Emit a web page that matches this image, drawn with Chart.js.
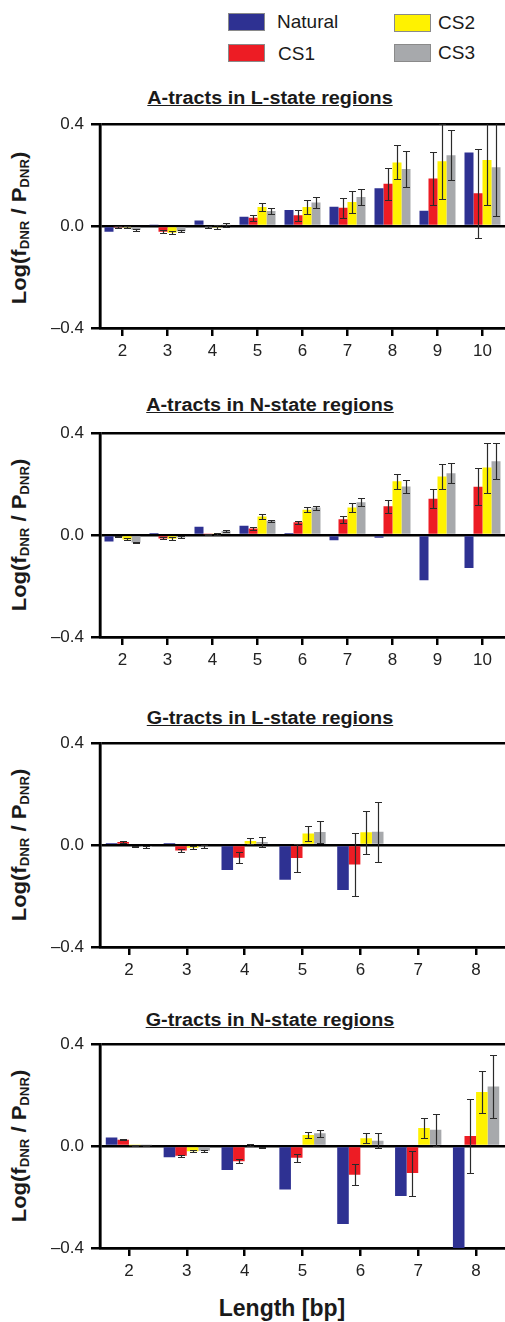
<!DOCTYPE html>
<html>
<head>
<meta charset="utf-8">
<script src="https://cdn.jsdelivr.net/npm/chart.js@4.4.1/dist/chart.umd.min.js"></script>
<style>
  body { margin: 0; background: #fff; width: 505px; height: 1322px; position: relative; overflow: hidden;
         font-family: "Liberation Sans", Arial, sans-serif; color: #1a1a1a; }
  canvas.panel { position: absolute; left: 0; }
  .sw { position: absolute; width: 35px; height: 16px; border: 1px solid #8a8a8a; }
  .lg { position: absolute; font-size: 19px; line-height: 20px; white-space: nowrap; }
  .ttl { position: absolute; left: 270px; transform: translate(-50%, -50%) scaleX(1.1); font-weight: bold; font-size: 18px;
         line-height: 22px; text-decoration: underline; white-space: nowrap; }
  .ytl { position: absolute; left: 22px; transform: translate(-50%, -50%) rotate(-90deg) scaleX(1.1); font-weight: bold;
         font-size: 20px; line-height: 24px; white-space: nowrap; }
  .ytl sub { font-size: 12px; vertical-align: -3px; }
  .xtl { position: absolute; left: 282px; top: 1308px; transform: translate(-50%, -50%); font-weight: bold;
         font-size: 23px; line-height: 26px; white-space: nowrap; }
</style>
</head>
<body>

<div class="sw" style="left:228px;top:13px;background:#2e3192"></div>
<div class="lg" style="left:277px;top:12px">Natural</div>
<div class="sw" style="left:228px;top:44px;background:#ed1c24"></div>
<div class="lg" style="left:278px;top:44px">CS1</div>
<div class="sw" style="left:394px;top:14px;background:#fff200"></div>
<div class="lg" style="left:438px;top:13px">CS2</div>
<div class="sw" style="left:394px;top:44px;background:#a7a9ac"></div>
<div class="lg" style="left:438px;top:43px">CS3</div>

<div class="ttl" style="top:98px">A-tracts in L-state regions</div>
<div class="ttl" style="top:405px">A-tracts in N-state regions</div>
<div class="ttl" style="top:718px">G-tracts in L-state regions</div>
<div class="ttl" style="top:1020px">G-tracts in N-state regions</div>

<div class="ytl" style="top:228px">Log(f<sub>DNR</sub> / P<sub>DNR</sub>)</div>
<div class="ytl" style="top:535px">Log(f<sub>DNR</sub> / P<sub>DNR</sub>)</div>
<div class="ytl" style="top:845px">Log(f<sub>DNR</sub> / P<sub>DNR</sub>)</div>
<div class="ytl" style="top:1146px">Log(f<sub>DNR</sub> / P<sub>DNR</sub>)</div>

<canvas class="panel" id="aL" width="505" height="267" style="top:107px"></canvas>
<canvas class="panel" id="aN" width="505" height="267" style="top:416px"></canvas>
<canvas class="panel" id="gL" width="505" height="267" style="top:726px"></canvas>
<canvas class="panel" id="gN" width="505" height="267" style="top:1027px"></canvas>

<div class="xtl">Length [bp]</div>

<script>
// tract lengths (bp)
const lengthsA = ["2", "3", "4", "5", "6", "7", "8", "9", "10"];
const lengthsG = ["2", "3", "4", "5", "6", "7", "8"];
const yTicks = [-0.4, 0, 0.4];

const seriesNames = ["Natural", "CS1", "CS2", "CS3"];
const seriesColors = ["#2e3192", "#ed1c24", "#fff200", "#a7a9ac"];

// A-tracts, L-state: rows = Natural, CS1, CS2, CS3
const aLMeans = [
  [-0.022, 0.003, 0.022, 0.037, 0.063, 0.076, 0.149, 0.060, 0.289],
  [-0.003, -0.022, -0.005, 0.033, 0.043, 0.072, 0.166, 0.187, 0.129],
  [-0.004, -0.026, -0.004, 0.075, 0.075, 0.095, 0.250, 0.255, 0.259],
  [-0.015, -0.020, 0.003, 0.059, 0.093, 0.114, 0.224, 0.278, 0.231]
];
const aLErrors = [
  null,
  [0.003, 0.005, 0.004, 0.012, 0.022, 0.039, 0.062, 0.103, 0.175],
  [0.004, 0.006, 0.009, 0.015, 0.027, 0.042, 0.067, 0.147, 0.178],
  [0.004, 0.005, 0.008, 0.013, 0.020, 0.033, 0.070, 0.098, 0.192]
];

// A-tracts, N-state
const aNMeans = [
  [-0.025, 0.008, 0.033, 0.037, 0.008, -0.020, -0.010, -0.177, -0.129],
  [-0.005, -0.013, 0.003, 0.026, 0.050, 0.062, 0.113, 0.143, 0.190],
  [-0.017, -0.014, 0.006, 0.073, 0.100, 0.108, 0.211, 0.230, 0.265],
  [-0.029, -0.009, 0.016, 0.056, 0.108, 0.129, 0.191, 0.243, 0.290]
];
const aNErrors = [
  null,
  [0.003, 0.004, 0.003, 0.007, 0.007, 0.014, 0.025, 0.037, 0.073],
  [0.004, 0.005, 0.004, 0.008, 0.011, 0.018, 0.030, 0.051, 0.098],
  [0.003, 0.004, 0.005, 0.005, 0.008, 0.015, 0.024, 0.040, 0.071]
];

// G-tracts, L-state (no data at 7 and 8 bp)
const gLMeans = [
  [0.008, 0.008, -0.098, -0.136, -0.176, null, null],
  [0.012, -0.021, -0.050, -0.051, -0.076, null, null],
  [-0.005, -0.010, 0.016, 0.046, 0.050, null, null],
  [-0.007, -0.005, 0.012, 0.051, 0.052, null, null]
];
const gLErrors = [
  null,
  [0.003, 0.007, 0.021, 0.054, 0.125, null, null],
  [0.003, 0.006, 0.013, 0.030, 0.083, null, null],
  [0.005, 0.006, 0.018, 0.043, 0.117, null, null]
];

// G-tracts, N-state
const gNMeans = [
  [0.034, -0.044, -0.094, -0.170, -0.306, -0.196, -0.41],
  [0.025, -0.038, -0.059, -0.046, -0.112, -0.106, 0.040],
  [0.003, -0.020, 0.005, 0.044, 0.031, 0.071, 0.212],
  [0.003, -0.018, -0.005, 0.050, 0.021, 0.064, 0.234]
];
const gNErrors = [
  null,
  [0.003, 0.003, 0.008, 0.016, 0.040, 0.088, 0.146],
  [0.002, 0.004, 0.003, 0.012, 0.020, 0.038, 0.084],
  [0.002, 0.004, 0.003, 0.014, 0.029, 0.063, 0.125]
];

const fontFamily = '"Liberation Sans", Arial, sans-serif';

const errorBars = {
  id: "errorBars",
  afterDatasetsDraw(chart) {
    const { ctx, chartArea, scales: { y } } = chart;
    ctx.save();
    ctx.beginPath();
    ctx.rect(chartArea.left, chartArea.top, chartArea.width, chartArea.height);
    ctx.clip();
    ctx.strokeStyle = "#2a2a2a";
    ctx.lineWidth = 1.2;
    chart.data.datasets.forEach((ds, i) => {
      if (!ds.errors) return;
      chart.getDatasetMeta(i).data.forEach((bar, j) => {
        const v = ds.data[j], e = ds.errors[j];
        if (v == null || e == null) return;
        const x = Math.round(bar.x) + 0.5;
        const hi = Math.round(y.getPixelForValue(v + e)) + 0.5;
        const lo = Math.round(y.getPixelForValue(v - e)) + 0.5;
        ctx.beginPath();
        ctx.moveTo(x, hi); ctx.lineTo(x, lo);
        ctx.moveTo(x - 3.5, hi); ctx.lineTo(x + 3.5, hi);
        ctx.moveTo(x - 3.5, lo); ctx.lineTo(x + 3.5, lo);
        ctx.stroke();
      });
    });
    ctx.restore();
  }
};

// left axis drawn solid on top so it reads as heavy as the horizontal rules
const leftAxis = {
  id: "leftAxis",
  afterDraw(chart) {
    const { ctx, chartArea } = chart;
    ctx.save();
    ctx.strokeStyle = "#000";
    ctx.lineWidth = 2.5;
    ctx.beginPath();
    ctx.moveTo(chartArea.left, chartArea.top - 1);
    ctx.lineTo(chartArea.left, chartArea.bottom + 1);
    ctx.stroke();
    ctx.restore();
  }
};

function makePanel(id, labels, means, errors) {
  new Chart(document.getElementById(id), {
    type: "bar",
    data: {
      labels: labels,
      datasets: seriesNames.map((name, k) => ({
        label: name,
        data: means[k],
        errors: errors[k],
        backgroundColor: seriesColors[k],
        borderWidth: 0,
        categoryPercentage: 0.8,
        barPercentage: 1
      }))
    },
    options: {
      responsive: false,
      animation: false,
      layout: { padding: { top: 14, right: 0, left: 0, bottom: 0 } },
      plugins: { legend: { display: false }, tooltip: { enabled: false } },
      scales: {
        x: {
          grid: { offset: false, drawOnChartArea: false, color: "#000", lineWidth: 2.5, tickLength: 8 },
          border: { color: "#000", width: 2.5 },
          ticks: { color: "#222", font: { size: 17, family: fontFamily }, padding: 5, maxRotation: 0 },
          afterFit: (s) => { s.height = 46; }
        },
        y: {
          min: -0.4,
          max: 0.4,
          z: 1,
          afterBuildTicks: (s) => { s.ticks = yTicks.map((v) => ({ value: v })); },
          grid: { color: "#000", lineWidth: 2.5, tickLength: 9 },
          border: { color: "#000", width: 2.5 },
          ticks: {
            color: "#222",
            font: { size: 17, family: fontFamily },
            padding: 7,
            callback: (v) => (v < 0 ? "\u2013" : "") + Math.abs(v).toFixed(1)
          },
          afterFit: (s) => { s.width = 100; }
        }
      }
    },
    plugins: [errorBars, leftAxis]
  });
}

makePanel("aL", lengthsA, aLMeans, aLErrors);
makePanel("aN", lengthsA, aNMeans, aNErrors);
makePanel("gL", lengthsG, gLMeans, gLErrors);
makePanel("gN", lengthsG, gNMeans, gNErrors);
</script>
</body>
</html>
